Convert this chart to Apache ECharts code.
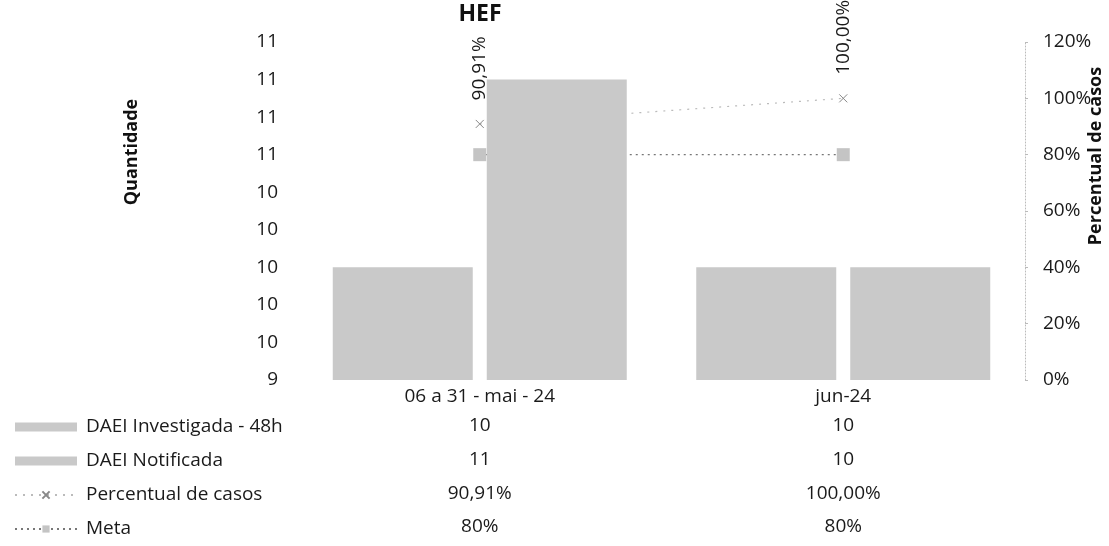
<!DOCTYPE html>
<html>
<head>
<meta charset="utf-8">
<script src="https://cdn.jsdelivr.net/npm/echarts@6/dist/echarts.min.js"></script>
<style>
html,body{margin:0;padding:0;background:#fff;}
#main{width:1109px;height:546px;}
</style>
</head>
<body>
<div id="main"></div>
<script>
const categories = ['06 a 31 - mai - 24', 'jun-24'];
const investigada = [10, 10];
const notificada = [11, 10];
const percentual = [90.91, 100];
const meta = [80, 80];
const seriesNames = ['DAEI Investigada - 48h', 'DAEI Notificada', 'Percentual de casos', 'Meta'];

const FONT = 'Open Sans';
const fmtPct = v => v.toFixed(2).replace('.', ',') + '%';
const fmtMeta = v => Math.round(v) + '%';

const tableRows = [
  { values: investigada, fmt: v => String(v), offset: 31 },
  { values: notificada, fmt: v => String(v), offset: 65 },
  { values: percentual, fmt: fmtPct, offset: 99 },
  { values: meta, fmt: fmtMeta, offset: 132 }
];

const baseLabel = { fontFamily: FONT, fontSize: 19, color: '#1a1a1a', lineHeight: 20 };

const xAxes = [{
  type: 'category', data: categories, gridIndex: 0, position: 'bottom',
  axisLine: { show: false }, axisTick: { show: false },
  axisLabel: Object.assign({ margin: 7, interval: 0 }, baseLabel)
}];
tableRows.forEach(r => {
  xAxes.push({
    type: 'category', data: categories, gridIndex: 0, position: 'bottom', offset: r.offset,
    axisLine: { show: false }, axisTick: { show: false }, splitLine: { show: false },
    axisLabel: Object.assign({ margin: 5, interval: 0, formatter: (val, idx) => r.fmt(r.values[idx]) }, baseLabel)
  });
});

const chart = echarts.init(document.getElementById('main'), null, { renderer: 'canvas' });
chart.setOption({
  animation: false,
  backgroundColor: '#fff',
  title: {
    text: 'HEF', left: 480, top: 3, textAlign: 'center', padding: 0,
    textStyle: { fontFamily: FONT, fontSize: 23, fontWeight: 'bold', color: '#111' }
  },
  grid: { left: 298, right: 84, top: 42, bottom: 166, containLabel: false },
  legend: {
    orient: 'vertical', left: 9, top: 412, itemWidth: 62, itemHeight: 9, itemGap: 14,
    data: [
      { name: seriesNames[0], icon: 'rect' },
      { name: seriesNames[1], icon: 'rect' },
      { name: seriesNames[2] },
      { name: seriesNames[3] }
    ],
    textStyle: { fontFamily: FONT, fontSize: 19, color: '#1a1a1a', lineHeight: 20, padding: [0, 0, 0, 4] }
  },
  xAxis: xAxes,
  yAxis: [{
    type: 'value', min: 9.4, max: 11.2, interval: 0.2,
    axisLine: { show: false }, axisTick: { show: false }, splitLine: { show: false },
    axisLabel: Object.assign({ margin: 20, formatter: v => String(Math.round(v)) }, baseLabel)
  }, {
    type: 'value', min: 0, max: 120, interval: 20, position: 'right',
    axisLine: { show: true, lineStyle: { color: '#bbb', type: [1, 2], width: 1 } },
    axisTick: { show: true, inside: false, length: 3, lineStyle: { color: '#bbb' } },
    splitLine: { show: false },
    axisLabel: Object.assign({ margin: 18, formatter: v => Math.round(v) + '%' }, baseLabel)
  }],
  graphic: [{
    type: 'text', x: 132, y: 152, rotation: Math.PI / 2,
    style: { text: 'Quantidade', font: 'bold 18px "Open Sans"', fill: '#111', align: 'center', verticalAlign: 'middle' }
  }, {
    type: 'text', x: 1096, y: 156, rotation: Math.PI / 2,
    style: { text: 'Percentual de casos', font: 'bold 18px "Open Sans"', fill: '#111', align: 'center', verticalAlign: 'middle' }
  }],
  series: [{
    name: seriesNames[0], type: 'bar', data: investigada, xAxisIndex: 0, yAxisIndex: 0,
    barWidth: 140, barGap: '10%', z: 5,
    itemStyle: { color: '#c9c9c9' }
  }, {
    name: seriesNames[1], type: 'bar', data: notificada, xAxisIndex: 0, yAxisIndex: 0,
    barWidth: 140, barGap: '10%', z: 5,
    itemStyle: { color: '#c9c9c9' }
  }, {
    name: seriesNames[2], type: 'line', data: percentual, xAxisIndex: 0, yAxisIndex: 1, z: 2,
    symbol: 'path://M0,0L10,10M10,0L0,10', symbolSize: 8,
    itemStyle: { color: '#999', borderColor: '#888', borderWidth: 1 },
    lineStyle: { color: '#bbb', width: 1.2, type: [2, 6] },
    label: {
      show: true, position: 'top', rotate: 90, align: 'left', verticalAlign: 'middle', distance: 19,
      formatter: p => fmtPct(p.value), fontFamily: FONT, fontSize: 19, color: '#1a1a1a'
    }
  }, {
    name: seriesNames[3], type: 'line', data: meta, xAxisIndex: 0, yAxisIndex: 1, z: 2,
    symbol: 'rect', symbolSize: 13,
    itemStyle: { color: '#c4c4c4' },
    lineStyle: { color: '#777', width: 1.3, type: [2, 4] }
  }]
});
</script>
</body>
</html>
